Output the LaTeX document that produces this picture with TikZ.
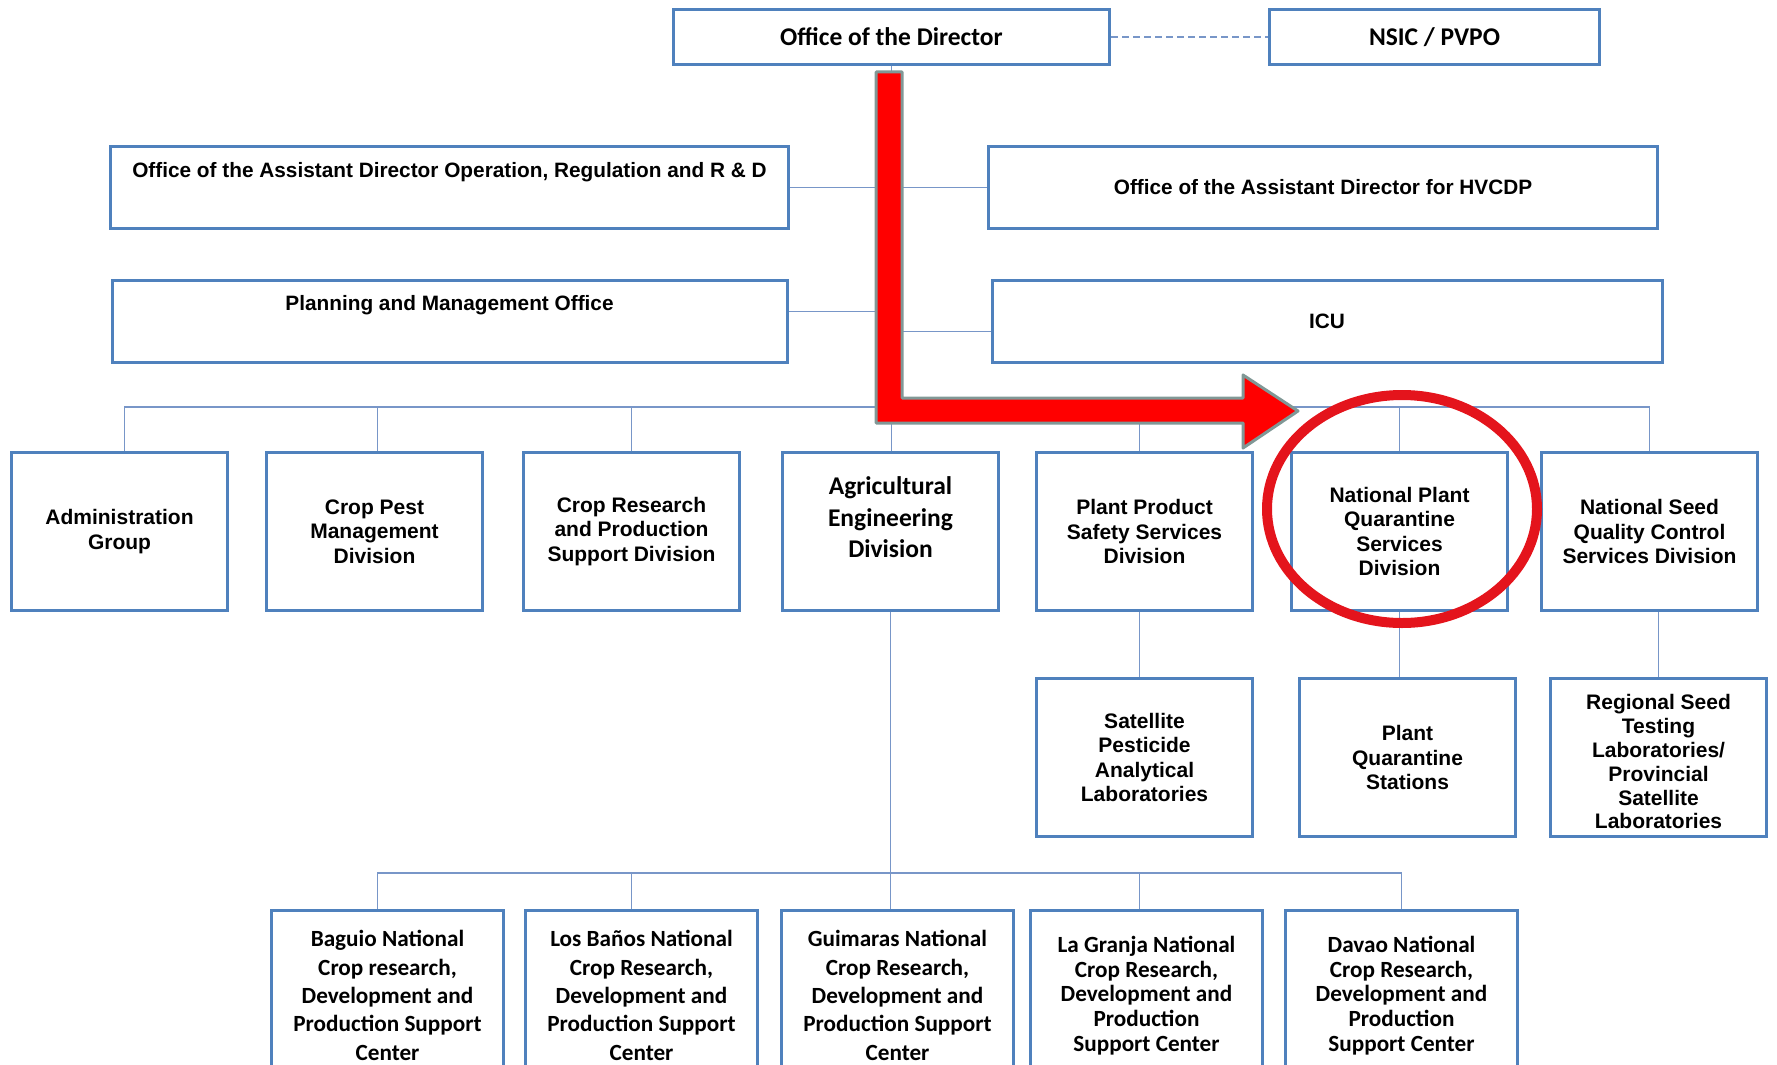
\documentclass[tikz,border=0pt]{standalone}
\usepackage{fontspec}
\setmainfont{Liberation Sans}
\newfontfamily\calibri{Carlito}
\usepackage{xcolor}
\usetikzlibrary{positioning, calc}

\definecolor{boxblue}{RGB}{79,129,189}
\definecolor{linkblue}{RGB}{120,150,200}
\definecolor{arrowred}{RGB}{255,0,0}
\definecolor{arrowedge}{RGB}{128,152,150}
\definecolor{ringred}{RGB}{228,20,28}

\begin{document}
\begin{tikzpicture}[
    x=1pt, y=-1pt,
    box/.style={
        draw=boxblue,
        line width=3pt,
        fill=white,
        align=center,
        minimum width=216pt,
        minimum height=158pt,
        inner sep=2pt,
        font=\fontsize{21}{24.4}\selectfont\bfseries
    },
    wide/.style={box, minimum height=82pt, font=\fontsize{20.8}{24}\selectfont\bfseries},
    topbox/.style={box, minimum height=55pt, font=\calibri\fontsize{25.5}{28}\selectfont\bfseries},
    centre/.style={box, minimum width=232pt, minimum height=170pt, font=\calibri\fontsize{23.2}{28.3}\selectfont\bfseries},
    link/.style={draw=linkblue, line width=1.5pt}
]
\useasboundingbox (0,0) rectangle (1777,1065);

\node[topbox, minimum width=436pt] (director) at (891.5,37) {Office of the Director};
\node[topbox, minimum width=330pt, right=157pt of director] (nsic) {NSIC / PVPO};

\node[wide, minimum width=678pt, text height=15pt, text depth=35pt] (opsdir) at (449.5,187.5) {Office of the Assistant Director Operation, Regulation and R \& D};
\node[wide, minimum width=669pt, right=197pt of opsdir] (hvcdp) {Office of the Assistant Director for HVCDP};
\node[wide, minimum width=675pt, text height=15pt, text depth=37pt, below=49pt of opsdir] (pmo) {Planning and Management Office};
\node[wide, minimum width=670pt, right=202pt of pmo] (icu) {ICU};

\node[box] (admin) at (119.5,531.5) {Administration\\Group};
\node[box, right=36pt of admin] (croppest) {Crop Pest\\Management\\Division};
\node[box, right=38pt of croppest] (cropres) {Crop Research\\and Production\\Support Division};
\node[box, right=40pt of cropres, font=\calibri\fontsize{25.5}{31.7}\selectfont\bfseries] (ageng) {Agricultural\\Engineering\\Division\\[-3pt]\mbox{}};
\node[box, right=35pt of ageng] (ppss) {Plant Product\\Safety Services\\Division};
\node[box, right=36pt of ppss] (npqsd) {National Plant\\Quarantine\\Services\\Division};
\node[box, right=31pt of npqsd] (nsqc) {National Seed\\Quality Control\\Services Division};

\node[box, below=65pt of ppss] (spal) {Satellite\\Pesticide\\Analytical\\Laboratories};
\node[box, right=44pt of spal] (pqs) {Plant\\Quarantine\\Stations};
\node[box, right=32pt of pqs, font=\fontsize{21}{23.8}\selectfont\bfseries] (rstl) {\mbox{}\\Regional Seed\\Testing\\Laboratories/\\Provincial\\Satellite\\Laboratories};

\node[centre, anchor=north] (baguio) at (387.5,909) {Baguio National\\Crop research,\\Development and\\Production Support\\Center};
\node[centre, right=19pt of baguio] (losbanos) {Los Baños National\\Crop Research,\\Development and\\Production Support\\Center};
\node[centre, right=21pt of losbanos] (guimaras) {Guimaras National\\Crop Research,\\Development and\\Production Support\\Center};
\node[centre, right=14pt of guimaras, font=\calibri\fontsize{23.2}{24.6}\selectfont\bfseries] (lagranja) {La Granja National\\Crop Research,\\Development and\\Production\\Support Center};
\node[centre, right=20pt of lagranja, font=\calibri\fontsize{23.2}{24.6}\selectfont\bfseries] (davao) {Davao National\\Crop Research,\\Development and\\Production\\Support Center};

\draw[link, line width=2pt, dash pattern=on 7pt off 4pt] (director) -- (nsic);
\draw[link] (director) -- (director |- ageng.north);
\draw[link] (opsdir) -- (opsdir -| director);
\draw[link] (hvcdp) -- (hvcdp -| director);
\draw[link] ([yshift=10pt]pmo.east) -- ([yshift=10pt]pmo.east -| director);
\draw[link] ([yshift=-10pt]icu.west) -- ([yshift=-10pt]icu.west -| director);

\coordinate (divbus) at (890.5,407);
\draw[link] ([xshift=5pt]admin.north) |- (divbus) -| (nsqc);
\draw[link] ([xshift=3pt]croppest.north) -- ([xshift=3pt]croppest.north |- divbus);
\draw[link] (cropres) -- (cropres |- divbus);
\draw[link] ([xshift=-5pt]ppss.north) -- ([xshift=-5pt]ppss.north |- divbus);
\draw[link] (npqsd) -- (npqsd |- divbus);

\draw[link] ([xshift=-5pt]ppss.south) -- ([xshift=-5pt]ppss.south |- spal.north);
\draw[link] (npqsd) -- (npqsd |- pqs.north);
\draw[link] (rstl) -- (rstl |- nsqc.south);

\coordinate (ctrbus) at (890.5,873);
\draw[link] (ageng) -- (ageng |- guimaras.north);
\draw[link] ([xshift=-10pt]baguio.north) |- (ctrbus) -| (davao);
\draw[link] ([xshift=-10pt]losbanos.north) -- ([xshift=-10pt]losbanos.north |- ctrbus);
\draw[link] ([xshift=-7pt]lagranja.north) -- ([xshift=-7pt]lagranja.north |- ctrbus);

% highlight
\draw[arrowedge, fill=arrowred, line width=3pt, line join=round] (876,72) -- (902,72) -- (902,398) -- (1243,398) -- (1243,375) -- (1298,411) -- (1243,448) -- (1243,423) -- (876,423) -- cycle;
\draw[ringred, line width=10pt] (1402,509) ellipse [x radius=135pt, y radius=114pt];

\end{tikzpicture}
\end{document}
